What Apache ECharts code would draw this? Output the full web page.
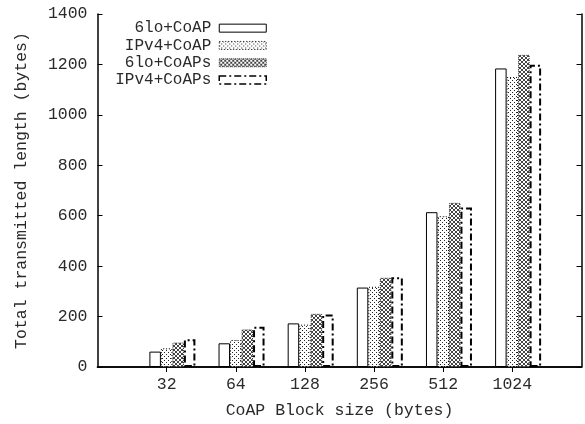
<!DOCTYPE html>
<html>
<head>
<meta charset="utf-8">
<script src="https://cdn.jsdelivr.net/npm/echarts@6/dist/echarts.min.js"></script>
<style>
  html, body { margin: 0; padding: 0; background: #fff; }
  #chart { width: 585px; height: 424px; }
</style>
</head>
<body>
<div id="chart"></div>
<script>
const categories = ['32', '64', '128', '256', '512', '1024'];
const lo6Coap = [61, 94, 173, 315, 614, 1184];
const ipv4Coap = [74, 107, 168, 318, 598, 1150];
const lo6Coaps = [97, 149, 211, 354, 651, 1238];
const ipv4Coaps = [110, 160, 208, 356, 633, 1199];
const yTicks = [0, 200, 400, 600, 800, 1000, 1200, 1400];

const FONT = 'Liberation Mono';
const TXT = '#2a2a2a';

// sparse dotted-X pattern (gnuplot style)
function dotPattern() {
  const c = document.createElement('canvas');
  c.width = 8; c.height = 8;
  const g = c.getContext('2d');
  g.fillStyle = '#fff';
  g.fillRect(0, 0, 8, 8);
  g.fillStyle = '#222';
  [[0, 0], [2, 2], [4, 4], [6, 6], [6, 2], [2, 6], [0, 4], [4, 0]].forEach(function (p) {
    g.fillRect(p[0], p[1], 1, 1);
  });
  return c;
}
// dense crosshatch pattern
function hatchPattern() {
  const c = document.createElement('canvas');
  c.width = 4; c.height = 4;
  const g = c.getContext('2d');
  g.fillStyle = '#fff';
  g.fillRect(0, 0, 4, 4);
  g.fillStyle = '#444';
  for (let i = 0; i < 4; i++) {
    g.fillRect(i, i, 1, 1);
    g.fillRect(3 - i, i, 1, 1);
  }
  return c;
}

const pad = function (arr) { return [null].concat(arr, [null]); };
const xCats = [''].concat(categories, ['']);

const chart = echarts.init(document.getElementById('chart'));

const barBase = { type: 'bar', barWidth: 11.5, barGap: '0%', xAxisIndex: 0, yAxisIndex: 0 };
const tickEvery = function (i) { return i > 0 && i < xCats.length - 1; };

chart.setOption({
  animation: false,
  textStyle: { fontFamily: FONT, color: TXT },
  grid: { left: 97.5, right: 3.5, top: 14, bottom: 56.3, show: false },
  legend: {
    data: [
      { name: '6lo+CoAP', itemStyle: { borderWidth: 1 } },
      { name: 'IPv4+CoAP', itemStyle: { borderWidth: 1, borderType: [1, 2] } },
      { name: '6lo+CoAPs', itemStyle: { borderWidth: 1, borderType: [1, 1] } },
      { name: 'IPv4+CoAPs', itemStyle: { borderWidth: 1.5, borderType: [7, 3, 2, 3] } }
    ],
    orient: 'vertical',
    align: 'right',
    icon: 'rect',
    right: 313,
    top: 15,
    itemWidth: 47,
    itemHeight: 8,
    itemGap: 1,
    textStyle: { fontFamily: FONT, fontSize: 16, color: TXT, lineHeight: 16.3, padding: [0, 3, 0, 0] },
    selectedMode: false
  },
  xAxis: [
    {
      type: 'category',
      data: xCats,
      boundaryGap: false,
      name: 'CoAP Block size (bytes)',
      nameLocation: 'middle',
      nameGap: 35,
      nameTextStyle: { fontFamily: FONT, fontSize: 16.5, color: TXT },
      axisLine: { lineStyle: { color: '#000', width: 1.5 } },
      axisTick: { inside: true, length: 5, lineStyle: { color: '#000' }, interval: tickEvery },
      axisLabel: { fontFamily: FONT, fontSize: 16.5, color: TXT, margin: 9, interval: 0 },
      splitLine: { show: false }
    },
    {
      type: 'category',
      data: xCats,
      boundaryGap: false,
      position: 'top',
      axisLine: { lineStyle: { color: '#000', width: 1.5 } },
      axisTick: { inside: true, length: 5, lineStyle: { color: '#000' }, interval: tickEvery },
      axisLabel: { show: false },
      splitLine: { show: false }
    }
  ],
  yAxis: [
    {
      type: 'value',
      min: 0,
      max: 1400,
      interval: 200,
      name: 'Total transmitted length (bytes)',
      nameLocation: 'middle',
      nameGap: 67,
      nameRotate: 90,
      nameTextStyle: { fontFamily: FONT, fontSize: 16.5, color: TXT },
      axisLine: { show: true, lineStyle: { color: '#000', width: 1.5 } },
      axisTick: { show: true, inside: true, length: 5, lineStyle: { color: '#000' } },
      axisLabel: { fontFamily: FONT, fontSize: 16.5, color: TXT, margin: 10,
        formatter: function (v) { return yTicks.indexOf(v) >= 0 ? String(v) : ''; } },
      splitLine: { show: false }
    },
    {
      type: 'value',
      min: 0,
      max: 1400,
      interval: 200,
      position: 'right',
      axisLine: { show: true, lineStyle: { color: '#000', width: 1.5 } },
      axisTick: { show: true, inside: true, length: 5, lineStyle: { color: '#000' } },
      axisLabel: { show: false },
      splitLine: { show: false }
    }
  ],
  series: [
    // empty slot: gnuplot leaves a gap before each cluster
    Object.assign({}, barBase, { name: '_gap', data: pad([null, null, null, null, null, null]) }),
    Object.assign({}, barBase, {
      name: '6lo+CoAP',
      data: pad(lo6Coap),
      itemStyle: { color: '#fff', borderColor: '#000', borderWidth: 1 }
    }),
    Object.assign({}, barBase, {
      name: 'IPv4+CoAP',
      data: pad(ipv4Coap),
      itemStyle: { color: { image: dotPattern(), repeat: 'repeat' }, borderColor: '#000', borderWidth: 1, borderType: [1, 2] }
    }),
    Object.assign({}, barBase, {
      name: '6lo+CoAPs',
      data: pad(lo6Coaps),
      itemStyle: { color: { image: hatchPattern(), repeat: 'repeat' }, borderColor: '#333', borderWidth: 1, borderType: [1, 1] }
    }),
    Object.assign({}, barBase, {
      name: 'IPv4+CoAPs',
      data: pad(ipv4Coaps),
      itemStyle: { color: '#fff', borderColor: '#000', borderWidth: 2, borderType: [7, 3, 2, 3] }
    })
  ]
});
</script>
</body>
</html>
